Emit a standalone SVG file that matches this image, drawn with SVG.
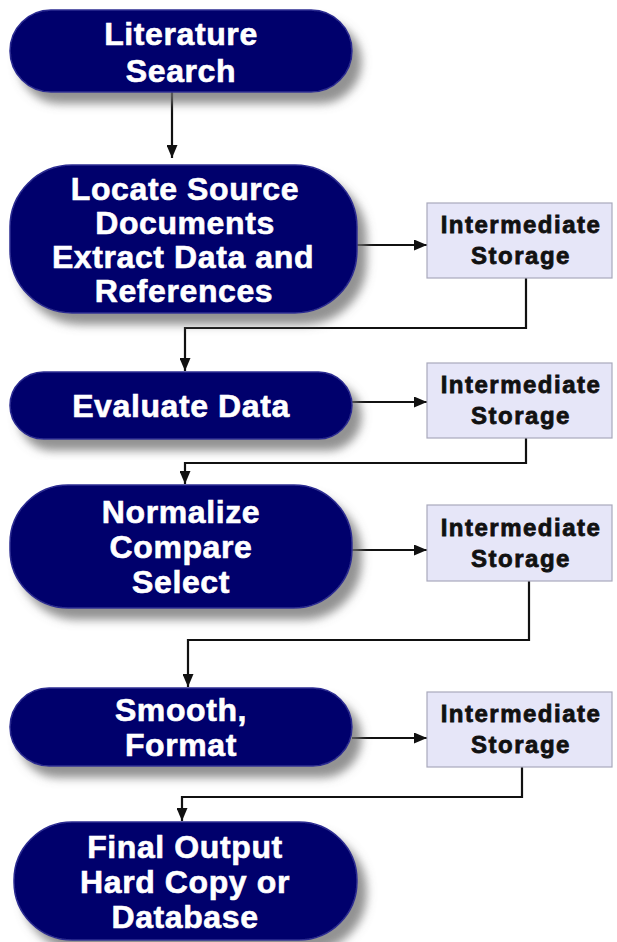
<svg xmlns="http://www.w3.org/2000/svg" width="617" height="942" viewBox="0 0 617 942">
  <defs>
    <filter id="drop" x="-10%" y="-20%" width="130%" height="150%">
      <feGaussianBlur in="SourceAlpha" stdDeviation="5"/>
      <feOffset dx="9" dy="11" result="blur"/>
      <feFlood flood-color="#6e6e6e" flood-opacity="0.75"/>
      <feComposite in2="blur" operator="in" result="shadow"/>
      <feMerge>
        <feMergeNode in="shadow"/>
        <feMergeNode in="SourceGraphic"/>
      </feMerge>
    </filter>
    <marker id="arrow" viewBox="0 0 13 11" refX="13" refY="5.5" markerWidth="13" markerHeight="11" markerUnits="userSpaceOnUse" orient="auto">
      <path d="M0,0 L13,5.5 L0,11 Z" fill="#111"/>
    </marker>
  </defs>
  <style>
    .step { fill: #05056c; stroke: #2c2c92; stroke-width: 1.5; filter: url(#drop); }
    .step-text { font-family: "Liberation Sans", Arial, sans-serif; font-weight: bold; font-size: 32px; fill: #ffffff; stroke: #ffffff; stroke-width: 0.6; text-anchor: middle; letter-spacing: 0.6px; }
    .store { fill: #e6e6f8; stroke: #a9a9bc; stroke-width: 1.2; }
    .store-text { font-family: "Liberation Sans", Arial, sans-serif; font-weight: bold; font-size: 24px; fill: #111111; stroke: #111111; stroke-width: 0.8; text-anchor: middle; letter-spacing: 1.5px; }
    .link { fill: none; stroke: #111; stroke-width: 2.2; marker-end: url(#arrow); }
  </style>

  <rect width="617" height="942" fill="#ffffff"/>

  <!-- connectors -->
  <g id="connectors">
    <path class="link" d="M172,92 V158"/>
    <path class="link" d="M357,245 H427"/>
    <path class="link" d="M526,278 V328 H185 V371"/>
    <path class="link" d="M352,402 H427"/>
    <path class="link" d="M526,438 V463 H185 V484"/>
    <path class="link" d="M352,550 H427"/>
    <path class="link" d="M529,581 V640 H188 V687"/>
    <path class="link" d="M352,738 H427"/>
    <path class="link" d="M522,767 V797 H182 V821"/>
  </g>

  <!-- process steps -->
  <g id="literature-search">
    <rect class="step" x="10" y="10" width="342" height="82" rx="41" ry="41"/>
    <text class="step-text" x="181" y="45" letter-spacing="1.4">Literature</text>
    <text class="step-text" x="181" y="82">Search</text>
  </g>

  <g id="locate-extract">
    <rect class="step" x="10" y="165" width="347" height="148" rx="62" ry="62"/>
    <text class="step-text" x="185" y="200" letter-spacing="0">Locate Source</text>
    <text class="step-text" x="185" y="234">Documents</text>
    <text class="step-text" x="183" y="268">Extract Data and</text>
    <text class="step-text" x="184" y="302">References</text>
  </g>

  <g id="evaluate-data">
    <rect class="step" x="10" y="372" width="342" height="67" rx="33.5" ry="33.5"/>
    <text class="step-text" x="181" y="417">Evaluate Data</text>
  </g>

  <g id="normalize-compare-select">
    <rect class="step" x="10" y="485" width="342" height="123" rx="58" ry="58"/>
    <text class="step-text" x="181" y="523">Normalize</text>
    <text class="step-text" x="181" y="558">Compare</text>
    <text class="step-text" x="181" y="593">Select</text>
  </g>

  <g id="smooth-format">
    <rect class="step" x="10" y="688" width="342" height="78" rx="39" ry="39"/>
    <text class="step-text" x="181" y="721">Smooth,</text>
    <text class="step-text" x="181" y="756">Format</text>
  </g>

  <g id="final-output">
    <rect class="step" x="14" y="822" width="343" height="118" rx="58" ry="58"/>
    <text class="step-text" x="185" y="858">Final Output</text>
    <text class="step-text" x="185" y="893">Hard Copy or</text>
    <text class="step-text" x="185" y="928">Database</text>
  </g>

  <!-- intermediate storage boxes -->
  <g id="storage-1">
    <rect class="store" x="427" y="203" width="185" height="75"/>
    <text class="store-text" x="521" y="233">Intermediate</text>
    <text class="store-text" x="521" y="264">Storage</text>
  </g>

  <g id="storage-2">
    <rect class="store" x="427" y="363" width="185" height="75"/>
    <text class="store-text" x="521" y="393">Intermediate</text>
    <text class="store-text" x="521" y="424">Storage</text>
  </g>

  <g id="storage-3">
    <rect class="store" x="427" y="505" width="185" height="76"/>
    <text class="store-text" x="521" y="536">Intermediate</text>
    <text class="store-text" x="521" y="567">Storage</text>
  </g>

  <g id="storage-4">
    <rect class="store" x="427" y="692" width="185" height="75"/>
    <text class="store-text" x="521" y="722">Intermediate</text>
    <text class="store-text" x="521" y="753">Storage</text>
  </g>
</svg>
